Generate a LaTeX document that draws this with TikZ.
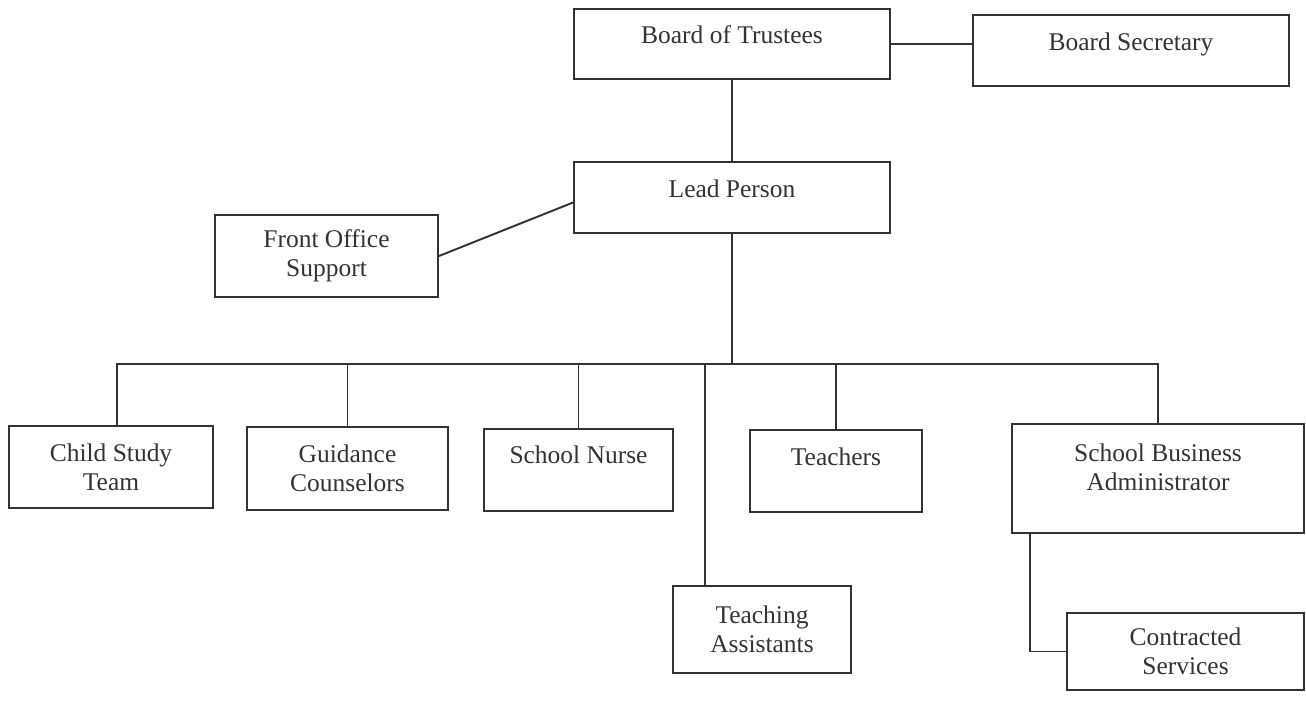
\documentclass[tikz,border=0pt]{standalone}
\usepackage{fontspec}
\setmainfont{Liberation Serif}
\usepackage{tikz}
\usetikzlibrary{calc}

\definecolor{inkgray}{HTML}{333333}

\begin{document}
\begin{tikzpicture}[x=0.02cm, y=-0.02cm, line width=1.1pt, draw=inkgray,
  every node/.style={font=\fontsize{14.5}{16.5}\selectfont, text=inkgray},
  orgbox/.style={draw=inkgray, line width=1.1pt, align=center, inner sep=0pt}]
  \useasboundingbox (0,0) rectangle (1306,701);

  % top level
  \node[orgbox, minimum width=6.32cm, minimum height=1.4cm] (trustees) at (732,44) {Board of Trustees\\[-11pt]\strut};
  \node[orgbox, minimum width=6.32cm, minimum height=1.42cm] (secretary) at (1131,50.5) {Board Secretary\\[-11pt]\strut};
  \node[orgbox, minimum width=6.32cm, minimum height=1.42cm] (lead) at (732,197.5) {Lead Person\\[-11pt]\strut};
  \node[orgbox, minimum width=4.46cm, minimum height=1.64cm] (front) at (326.5,256) {Front Office\\Support};

  % staff row
  \node[orgbox, minimum width=4.08cm, minimum height=1.64cm] (child) at (111,467) {Child Study\\Team};
  \node[orgbox, minimum width=4.02cm, minimum height=1.66cm] (guidance) at (347.5,468.5) {Guidance\\Counselors};
  \node[orgbox, minimum width=3.78cm, minimum height=1.64cm] (nurse) at (578.5,470) {School Nurse\\[-4pt]\strut};
  \node[orgbox, minimum width=3.44cm, minimum height=1.64cm] (teachers) at (836,471) {Teachers\\[-5pt]\strut};
  \node[orgbox, minimum width=5.84cm, minimum height=2.18cm] (sba) at (1158,478.5) {School Business\\Administrator\\[-9pt]\strut};
  \node[orgbox, minimum width=3.56cm, minimum height=1.74cm] (ta) at (762,629.5) {Teaching\\Assistants};
  \node[orgbox, minimum width=4.74cm, minimum height=1.54cm] (contracted) at (1185.5,651.5) {Contracted\\Services};

  \coordinate (bus) at (0,364);

  \draw (trustees.east) -- (trustees.east -| secretary.west);
  \draw (trustees) -- (lead);
  \draw (front.east) -- ($(lead.west)+(0,5)$);
  \draw (lead.south) -- (lead.south |- bus);
  \draw ($(child.north)+(6,0)$) |- (bus -| sba.north) -- (sba.north);
  \draw (guidance.north) -- (guidance.north |- bus);
  \draw (nurse.north) -- (nurse.north |- bus);
  \draw (teachers.north) -- (teachers.north |- bus);
  \draw ($(ta.north)+(-57,0)$) -- ($(ta.north |- bus)+(-57,0)$);
  \draw ($(sba.south west)+(19,0)$) |- (contracted.west);
\end{tikzpicture}
\end{document}
